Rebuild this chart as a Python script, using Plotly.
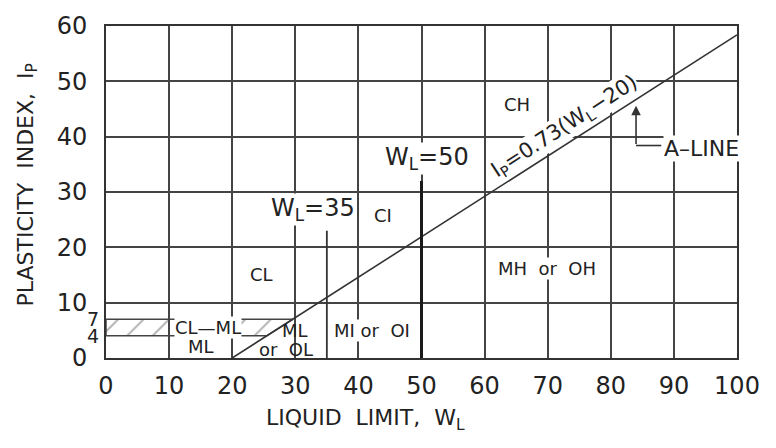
import plotly.graph_objects as go

# ---- data ----
x_ticks = [0, 10, 20, 30, 40, 50, 60, 70, 80, 90, 100]
y_ticks = [0, 10, 20, 30, 40, 50, 60]
y_extra_ticks = [4, 7]
a_slope = 0.73
a_origin = 20
a_line_x = [20, 100]
cl_ml_low, cl_ml_high = 4, 7
wl35_x, wl35_top = 35, 23
wl50_x, wl50_top = 50, 32
arrow_x, arrow_base, arrow_tip = 84, 38.4, 45.6
bracket_end_x = 88

zone_labels = ["CH", "CI", "CL", "MH  or  OH", "MI or  OI", "CL\u2014ML", "ML", "ML", "or  OL"]
zone_x = [65.1, 43.9, 24.6, 69.9, 42.2, 16.1, 15.1, 30.0, 28.6]
zone_y = [45.8, 25.7, 15.1, 16.2, 5.0, 5.6, 2.0, 5.0, 1.5]
zone_bg = [False, False, False, True, True, True, False, False, False]

wl_labels = ["W<sub>L</sub>=35", "W<sub>L</sub>=50"]
wl_label_x = [32.8, 50.9]
wl_label_y = [26.8, 36.0]

eq_text = "I<sub>P</sub>=0.73(W<sub>L</sub>\u221220)"
eq_x, eq_y = 72.6, 41.8

FONT = "DejaVu Sans"
INK = "#222222"
GRID = "#444444"

def a_line(x):
    return a_slope * (x - a_origin)

fig = go.Figure()

# CL-ML hatched band between Ip=4 and Ip=7 above the A-line
band_x = [0, 0, a_origin + cl_ml_high / a_slope, a_origin + cl_ml_low / a_slope, 0]
band_y = [cl_ml_low, cl_ml_high, cl_ml_high, cl_ml_low, cl_ml_low]
fig.add_trace(go.Scatter(
    x=band_x, y=band_y, mode="lines", fill="toself",
    fillcolor="rgba(0,0,0,0)",
    fillpattern=dict(shape="/", fgcolor="#555555", bgcolor="rgba(0,0,0,0)", size=18, solidity=0.1),
    line=dict(color=GRID, width=1.5), hoverinfo="skip", showlegend=False))

# A-line
fig.add_trace(go.Scatter(
    x=a_line_x, y=[a_line(v) for v in a_line_x], mode="lines",
    line=dict(color="#333333", width=1.6), showlegend=False, hoverinfo="skip"))

# W_L = 35 and W_L = 50 lines
fig.add_trace(go.Scatter(x=[wl35_x, wl35_x], y=[0, wl35_top], mode="lines",
                         line=dict(color="#333333", width=1.8), showlegend=False, hoverinfo="skip"))
fig.add_trace(go.Scatter(x=[wl50_x, wl50_x], y=[0, wl50_top], mode="lines",
                         line=dict(color="#1a1a1a", width=3), showlegend=False, hoverinfo="skip"))

# A-LINE leader bracket
fig.add_trace(go.Scatter(x=[arrow_x, bracket_end_x], y=[arrow_base, arrow_base], mode="lines",
                         line=dict(color="#333333", width=1.6), showlegend=False, hoverinfo="skip"))
fig.add_annotation(x=arrow_x, y=arrow_tip, ax=arrow_x, ay=arrow_base, axref="x", ayref="y",
                   xref="x", yref="y", text="", showarrow=True, arrowhead=2, arrowsize=1.2,
                   arrowwidth=1.6, arrowcolor="#333333")
fig.add_annotation(x=bracket_end_x + 0.3, y=arrow_base - 0.6, xref="x", yref="y", text="A\u2013LINE",
                   showarrow=False, xanchor="left", font=dict(family=FONT, size=22, color=INK),
                   bgcolor="white", borderpad=0)

# zone labels
for t, x, y, bg in zip(zone_labels, zone_x, zone_y, zone_bg):
    fig.add_annotation(x=x, y=y, xref="x", yref="y", text=t, showarrow=False,
                       font=dict(family=FONT, size=18, color=INK),
                       bgcolor="white" if bg else None, borderpad=0)

for t, x, y in zip(wl_labels, wl_label_x, wl_label_y):
    fig.add_annotation(x=x, y=y, xref="x", yref="y", text=t, showarrow=False,
                       font=dict(family=FONT, size=24, color=INK), bgcolor="white", borderpad=0)

fig.add_annotation(x=eq_x, y=eq_y, xref="x", yref="y", text=eq_text, showarrow=False,
                   textangle=-33, font=dict(family=FONT, size=21, color=INK),
                   bgcolor="white", borderpad=0)

# axis titles
fig.add_annotation(x=0.412, y=-0.185, xref="paper", yref="paper", xanchor="center", yanchor="middle",
                   text="LIQUID  LIMIT,  W<sub>L</sub>", showarrow=False,
                   font=dict(family=FONT, size=22, color=INK))
fig.add_annotation(x=-0.125, y=0.52, xref="paper", yref="paper", xanchor="center", yanchor="middle",
                   text="PLASTICITY  INDEX,  I<sub>P</sub>", showarrow=False, textangle=-90,
                   font=dict(family=FONT, size=22, color=INK))

fig.update_layout(
    width=776, height=448,
    margin=dict(l=106, r=39, t=20, b=90),
    paper_bgcolor="white", plot_bgcolor="white",
    showlegend=False,
    xaxis=dict(range=[0, 100], tickvals=x_ticks, ticktext=[str(v) for v in x_ticks],
               showgrid=True, gridcolor=GRID, gridwidth=1.6, zeroline=False,
               showline=True, mirror=True, linecolor="#333333", linewidth=2,
               ticks="", ticklabelstandoff=5,
               tickfont=dict(family=FONT, size=24, color=INK)),
    yaxis=dict(range=[0, 60], tickvals=y_ticks, ticktext=[str(v) for v in y_ticks],
               showgrid=True, gridcolor=GRID, gridwidth=1.6, zeroline=False,
               showline=True, mirror=True, linecolor="#333333", linewidth=2,
               ticks="", ticklabelstandoff=12,
               tickfont=dict(family=FONT, size=24, color=INK)),
    yaxis2=dict(range=[0, 60], overlaying="y", side="left", anchor="x",
                tickvals=y_extra_ticks, ticktext=[str(v) for v in y_extra_ticks],
                showgrid=False, zeroline=False, showline=False, ticks="", ticklabelstandoff=6,
                tickfont=dict(family=FONT, size=19, color=INK)),
)

# invisible trace to activate yaxis2
fig.add_trace(go.Scatter(x=[0], y=[0], yaxis="y2", mode="markers",
                         marker=dict(opacity=0), showlegend=False, hoverinfo="skip"))

fig.write_html("out.html", post_script="document.body.style.margin='0';",
               config={"displayModeBar": False})
